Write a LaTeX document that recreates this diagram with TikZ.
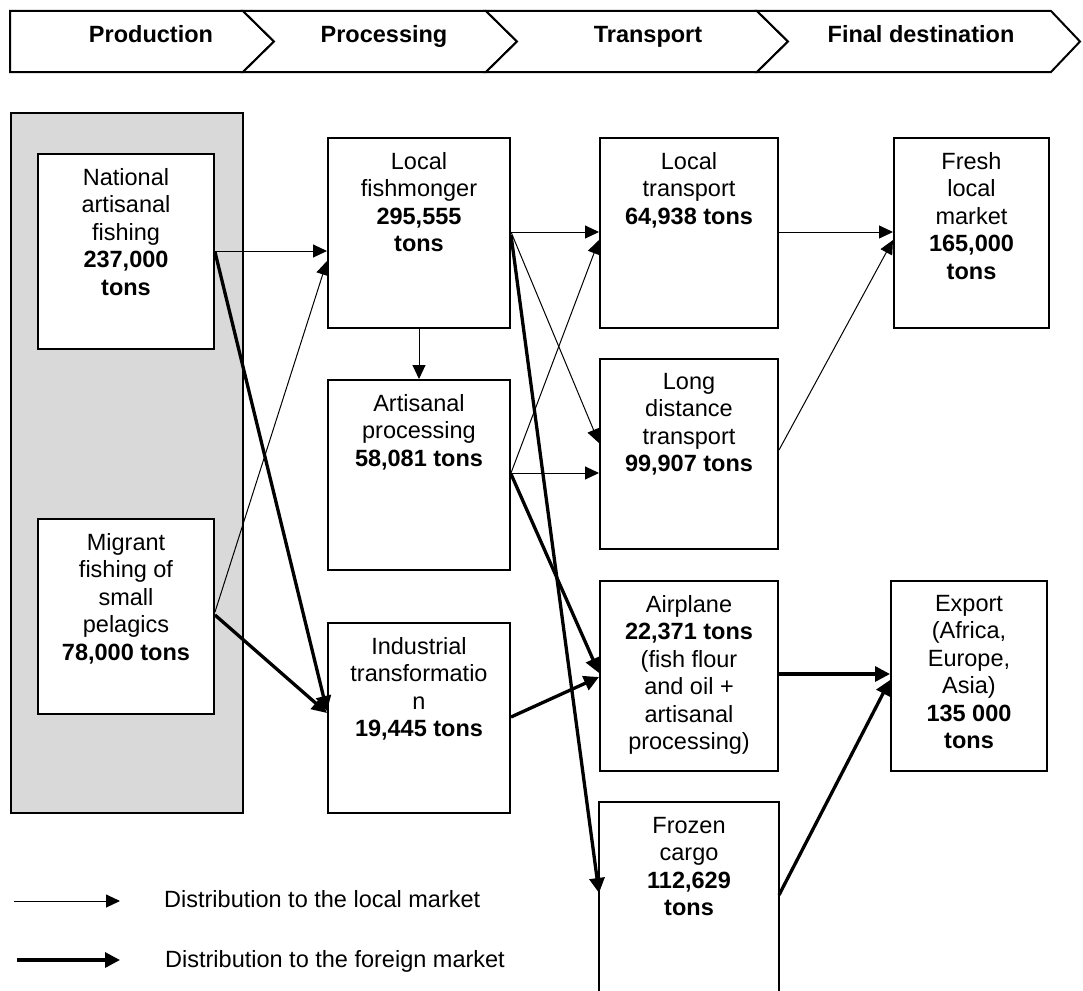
\documentclass[tikz,border=0pt]{standalone}
\usepackage{fontspec}
\setmainfont{Liberation Sans}
\usetikzlibrary{arrows.meta,calc}
\definecolor{prodgray}{RGB}{217,217,217}
\begin{document}
\begin{tikzpicture}[x=1pt,y=-1pt,
  box/.style={draw, line width=2pt, fill=white, inner sep=0pt, anchor=north west},
  txt/.style={font=\fontsize{23.5}{27.5}\selectfont, align=center, inner sep=0pt, anchor=north},
  hdr/.style={font=\fontsize{23.5}{27.5}\selectfont\bfseries, inner sep=0pt, anchor=base},
  chev/.style={draw, line width=2pt, line join=miter, fill=white},
  thinarr/.style={line width=1pt, -{Triangle[length=14pt,width=13pt]}},
  thickarr/.style={line width=3.3pt, -{Triangle[length=15pt,width=15pt]}},
  legtxt/.style={font=\fontsize{23.5}{27.5}\selectfont, inner sep=0pt, anchor=base west}]
\useasboundingbox (0,0) rectangle (1083,990);

% header chevrons
\draw[chev] (10,11) -- (243,11) -- (274,41.5) -- (243,72) -- (10,72) -- cycle;
\draw[chev] (243,11) -- (486,11) -- (517,41.5) -- (486,72) -- (243,72) -- (274,41.5) -- cycle;
\draw[chev] (486,11) -- (757,11) -- (788,41.5) -- (757,72) -- (486,72) -- (517,41.5) -- cycle;
\draw[chev] (757,11) -- (1051,11) -- (1080,41.5) -- (1051,72) -- (757,72) -- (788,41.5) -- cycle;
\node[hdr] (hProd) at (151,43) {Production};
\node[hdr] (hProc) at (384,43) {Processing};
\node[hdr] (hTrans) at (648,43) {Transport};
\node[hdr] (hFinal) at (921,43) {Final destination};

% production background
\node[box, fill=prodgray, minimum width=232pt, minimum height=700pt] (prod) at (10,112) {};

% boxes
\node[box, minimum width=176pt, minimum height=195pt] (nat) at (37,153) {};
\node[box, minimum width=176pt, minimum height=195pt] (mig) at (37,518) {};
\node[box, minimum width=182pt, minimum height=190pt] (fish) at (327,137) {};
\node[box, minimum width=182pt, minimum height=190pt] (art) at (327,379) {};
\node[box, minimum width=182pt, minimum height=190pt] (ind) at (327,622) {};
\node[box, minimum width=178pt, minimum height=190pt] (lt) at (599,137) {};
\node[box, minimum width=178pt, minimum height=190pt] (ld) at (599,358) {};
\node[box, minimum width=178pt, minimum height=190pt] (air) at (599,580) {};
\node[box, draw=none, fill=none, minimum width=178pt, minimum height=190pt] (frz) at (599,802) {};
\draw[line width=2pt] (frz.south west) -- (frz.north west) -- (frz.north east) -- (frz.south east);
\node[box, minimum width=155pt, minimum height=190pt] (fresh) at (893,137) {};
\node[box, minimum width=156pt, minimum height=190pt] (exp) at (890,580) {};

% box texts
\node[txt] (natT) at ($(nat.north)+(0,15)$) {National\\artisanal\\fishing\\\textbf{237,000}\\\textbf{tons}};
\node[txt] (migT) at ($(mig.north)+(0,15)$) {Migrant\\fishing of\\small\\pelagics\\\textbf{78,000 tons}};
\node[txt] (fishT) at ($(fish.north)+(0,15)$) {Local\\fishmonger\\\textbf{295,555}\\\textbf{tons}};
\node[txt] (artT) at ($(art.north)+(0,15)$) {Artisanal\\processing\\\textbf{58,081 tons}};
\node[txt] (indT) at ($(ind.north)+(0,15)$) {Industrial\\transformatio\\n\\\textbf{19,445 tons}};
\node[txt] (ltT) at ($(lt.north)+(0,15)$) {Local\\transport\\\textbf{64,938 tons}};
\node[txt] (ldT) at ($(ld.north)+(0,15)$) {Long\\distance\\transport\\\textbf{99,907 tons}};
\node[txt] (airT) at ($(air.north)+(0,15)$) {Airplane\\\textbf{22,371 tons}\\(fish flour\\and oil +\\artisanal\\processing)};
\node[txt] (frzT) at ($(frz.north)+(0,15)$) {Frozen\\cargo\\\textbf{112,629}\\\textbf{tons}};
\node[txt] (freshT) at ($(fresh.north)+(0,15)$) {Fresh\\local\\market\\\textbf{165,000}\\\textbf{tons}};
\node[txt] (expT) at ($(exp.north)+(0,15)$) {Export\\(Africa,\\Europe,\\Asia)\\\textbf{135 000}\\\textbf{tons}};

% connectors
\draw[thinarr] ($(nat.north east)+(0,98)$) -- ($(fish.north west)+(0,114)$);
\draw[thinarr] ($(mig.north east)+(0,94)$) -- ($(fish.north west)+(0,124)$);
\draw[thickarr] ($(nat.north east)+(0,99)$) -- ($(ind.north west)+(0,89)$);
\draw[thickarr] ($(mig.north east)+(0,97)$) -- ($(ind.north west)+(0,91)$);
\draw[thinarr] (fish.south) -- (art.north);
\draw[thinarr] ($(fish.north east)+(0,95)$) -- ($(lt.north west)+(0,95)$);
\draw[thinarr] ($(fish.north east)+(0,95)$) -- ($(ld.north west)+(0,85)$);
\draw[thickarr] ($(fish.north east)+(0,98)$) -- ($(frz.north west)+(0,91)$);
\draw[thinarr] ($(art.north east)+(0,94)$) -- ($(lt.north west)+(0,103)$);
\draw[thinarr] ($(art.north east)+(0,94)$) -- ($(ld.north west)+(0,115)$);
\draw[thickarr] ($(art.north east)+(0,95)$) -- ($(air.north west)+(0,93)$);
\draw[thickarr] ($(ind.north east)+(0,95)$) -- ($(air.north west)+(0,97)$);
\draw[thinarr] ($(lt.north east)+(0,95)$) -- ($(fresh.north west)+(0,95)$);
\draw[thinarr] ($(ld.north east)+(0,92)$) -- ($(fresh.north west)+(0,103)$);
\draw[thickarr] ($(air.north east)+(0,94)$) -- ($(exp.north west)+(0,94)$);
\draw[thickarr] ($(frz.north east)+(0,93)$) -- ($(exp.north west)+(0,100)$);

% legend
\coordinate (l1a) at (14,901);
\coordinate (l1b) at (120,901);
\coordinate (l2a) at (17,960);
\coordinate (l2b) at (120,960);
\draw[thinarr] (l1a) -- (l1b);
\draw[thickarr] (l2a) -- (l2b);
\node[legtxt] (leg1) at (164,907) {Distribution to the local market};
\node[legtxt] (leg2) at (165,967) {Distribution to the foreign market};
\end{tikzpicture}
\end{document}
